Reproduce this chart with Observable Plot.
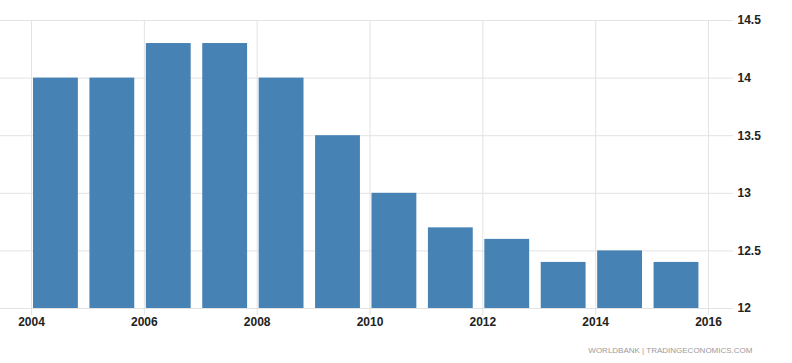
<!DOCTYPE html>
<html>
<head>
<meta charset="utf-8">
<script src="https://cdn.jsdelivr.net/npm/d3@7"></script>
<script src="https://cdn.jsdelivr.net/npm/@observablehq/plot@0.6"></script>
<style>
  html, body { margin: 0; padding: 0; background: #fff; }
</style>
</head>
<body>
<div id="chart"></div>
<script>
const years = [2004, 2005, 2006, 2007, 2008, 2009, 2010, 2011, 2012, 2013, 2014, 2015];
const values = [14.0, 14.0, 14.3, 14.3, 14.0, 13.5, 13.0, 12.7, 12.6, 12.4, 12.5, 12.4];
const xTicks = [2004, 2006, 2008, 2010, 2012, 2014, 2016];
const yTicks = [12, 12.5, 13, 13.5, 14, 14.5];
const credit = ["WORLDBANK | TRADINGECONOMICS.COM"];

const data = years.map((year, i) => ({year, value: values[i]}));

const chart = Plot.plot({
  width: 792,
  height: 363,
  marginLeft: 0,
  marginRight: 59,
  marginTop: 20,
  marginBottom: 55,
  style: {fontFamily: "'Liberation Sans', Arial, sans-serif", fontSize: "12px", color: "#222", background: "#fff"},
  x: {domain: [2003.45, 2016.443], ticks: xTicks, label: null},
  y: {domain: [12, 14.5], ticks: yTicks, label: null},
  marks: [
    Plot.gridY(yTicks, {stroke: "#e3e3e3", strokeOpacity: 1}),
    Plot.gridX(xTicks, {stroke: "#e3e3e3", strokeOpacity: 1, y1: 14.5, y2: 12}),
    Plot.axisX(xTicks, {tickSize: 7, stroke: "#e3e3e3", tickPadding: 2, tickFormat: d => String(d), fill: "#222", fontWeight: "bold", label: null}),
    Plot.axisY(yTicks, {anchor: "right", tickSize: 0, tickPadding: 4, tickFormat: d => String(d), fill: "#222", fontWeight: "bold", label: null}),
    Plot.rectY(data, {x1: d => d.year + 0.035, x2: d => d.year + 0.83, y1: 12, y2: "value", fill: "#4682b4"}),
    Plot.text(credit, {frameAnchor: "bottom-right", textAnchor: "end", dx: 19, dy: 44, fontSize: 8, fill: "#9a9a9a", letterSpacing: "0.4px"})
  ]
});
document.getElementById("chart").appendChild(chart);
</script>
</body>
</html>
